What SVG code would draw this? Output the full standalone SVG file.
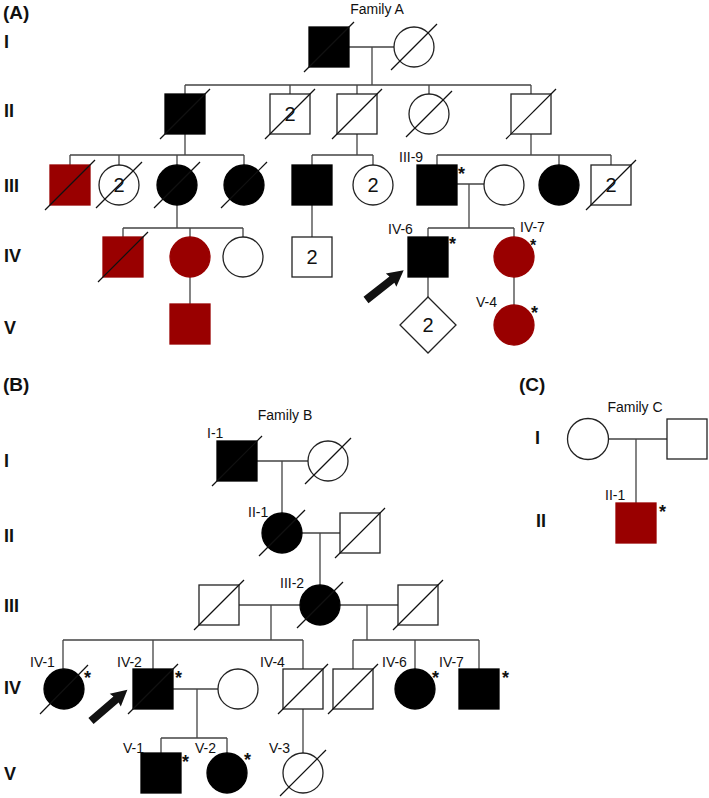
<svg xmlns="http://www.w3.org/2000/svg" width="709" height="798" viewBox="0 0 709 798">
<style>
.s{fill:#fff;stroke:#222;stroke-width:1.3}
.k{fill:#000;stroke:#000;stroke-width:1.3}
.r{fill:#990000;stroke:#990000;stroke-width:1.3}
.ln{stroke:#444;stroke-width:1.3;fill:none}
.d{stroke:#111;stroke-width:1.2}
.t{font-family:"Liberation Sans",Arial,sans-serif;fill:#111}
.gen{font-size:18px;font-weight:bold}
.pan{font-size:19px;font-weight:bold}
.lab{font-size:14px}
.fam{font-size:14px;text-anchor:middle}
.num{font-size:20px;text-anchor:middle}
.ast{font-size:18px;font-weight:bold}
.arw{fill:#111}
</style>
<defs>
<path id="arrow" d="M0,-4 L33,-4 L32,-8.5 L48,0 L32,8.5 L33,4 L0,4 Z"/>
</defs>
<rect width="709" height="798" fill="#fff"/>

<!-- panel and generation labels -->
<g id="labels" class="t">
<text class="pan" x="3" y="19">(A)</text>
<text class="pan" x="3" y="391">(B)</text>
<text class="pan" x="519" y="391">(C)</text>
<text class="fam" x="377" y="14">Family A</text>
<text class="fam" x="285" y="420">Family B</text>
<text class="fam" x="635" y="412">Family C</text>
<text class="gen" x="4" y="48">I</text>
<text class="gen" x="4" y="117">II</text>
<text class="gen" x="4" y="192">III</text>
<text class="gen" x="4" y="262">IV</text>
<text class="gen" x="4" y="334">V</text>
<text class="gen" x="4" y="467">I</text>
<text class="gen" x="4" y="542">II</text>
<text class="gen" x="4" y="612">III</text>
<text class="gen" x="4" y="694">IV</text>
<text class="gen" x="4" y="780">V</text>
<text class="gen" x="535" y="444">I</text>
<text class="gen" x="536" y="527">II</text>
</g>

<!-- connectors -->
<g id="connectors" class="ln">
<!-- Family A -->
<path d="M349,47 H394 M372,47 V85 M185,85 H531 M185,85 V94 M290,85 V94 M357,85 V94 M429,85 V94 M531,85 V94"/>
<path d="M185,134 V155 M70,155 H244 M70,155 V165 M119,155 V165 M177,155 V165 M244,155 V165"/>
<path d="M357,134 V155 M312,155 H373 M312,155 V165 M373,155 V165"/>
<path d="M531,134 V155 M437,155 H611 M437,155 V165 M559,155 V165 M611,155 V165"/>
<path d="M457,184 H484 M469,184 V228 M428,228 H514 M428,228 V237 M514,228 V237"/>
<path d="M177,205 V228 M123,228 H243 M123,228 V237 M190,228 V237 M243,228 V237"/>
<path d="M312,205 V237 M190,277 V304 M428,277 V297 M514,277 V305"/>
<!-- Family B -->
<path d="M257,461 H308 M282,461 V513 M302,533 H340 M320,533 V585"/>
<path d="M239,605 H300 M340,605 H398 M271,605 V640 M63,640 H303 M63,640 V669 M153,640 V669 M303,640 V669"/>
<path d="M367,605 V640 M353,640 H479 M353,640 V669 M415,640 V669 M479,640 V669"/>
<path d="M173,689 H218 M197,689 V738 M161,738 H227 M161,738 V753 M227,738 V753 M303,709 V753"/>
<!-- Family C -->
<path d="M608,439 H667 M636,439 V503"/>
</g>

<!-- Family A nodes -->
<g id="A-I-1"><rect class="k" x="309" y="27" width="40" height="40"/><line class="d" x1="304" y1="72" x2="354" y2="22"/></g>
<g id="A-I-2"><circle class="s" cx="414" cy="47" r="20"/><line class="d" x1="391" y1="70" x2="437" y2="24"/></g>

<g id="A-II-1"><rect class="k" x="165" y="94" width="40" height="40"/><line class="d" x1="160" y1="139" x2="210" y2="89"/></g>
<g id="A-II-2"><rect class="s" x="270" y="94" width="40" height="40"/><text class="t num" x="290" y="121">2</text><line class="d" x1="265" y1="139" x2="315" y2="89"/></g>
<g id="A-II-3"><rect class="s" x="337" y="94" width="40" height="40"/><line class="d" x1="332" y1="139" x2="382" y2="89"/></g>
<g id="A-II-4"><circle class="s" cx="429" cy="114" r="20"/><line class="d" x1="406" y1="137" x2="452" y2="91"/></g>
<g id="A-II-5"><rect class="s" x="511" y="94" width="40" height="40"/><line class="d" x1="506" y1="139" x2="556" y2="89"/></g>

<g id="A-III-1"><rect class="r" x="50" y="165" width="40" height="40"/><line class="d" x1="45" y1="210" x2="95" y2="160"/></g>
<g id="A-III-2"><circle class="s" cx="119" cy="185" r="20"/><text class="t num" x="119" y="192">2</text><line class="d" x1="96" y1="208" x2="142" y2="162"/></g>
<g id="A-III-3"><circle class="k" cx="177" cy="185" r="20"/><line class="d" x1="154" y1="208" x2="200" y2="162"/></g>
<g id="A-III-4"><circle class="k" cx="244" cy="185" r="20"/><line class="d" x1="221" y1="208" x2="267" y2="162"/></g>
<g id="A-III-5"><rect class="k" x="292" y="165" width="40" height="40"/></g>
<g id="A-III-6"><circle class="s" cx="373" cy="185" r="20"/><text class="t num" x="373" y="192">2</text></g>
<g id="A-III-9"><rect class="k" x="417" y="165" width="40" height="40"/><text class="t lab" x="399" y="162">III-9</text><text class="t ast" x="458" y="180">*</text></g>
<g id="A-III-10"><circle class="s" cx="504" cy="185" r="20"/></g>
<g id="A-III-11"><circle class="k" cx="559" cy="185" r="20"/></g>
<g id="A-III-12"><rect class="s" x="591" y="165" width="40" height="40"/><text class="t num" x="611" y="192">2</text><line class="d" x1="586" y1="210" x2="636" y2="160"/></g>

<g id="A-IV-1"><rect class="r" x="103" y="237" width="40" height="40"/><line class="d" x1="98" y1="282" x2="148" y2="232"/></g>
<g id="A-IV-2"><circle class="r" cx="190" cy="257" r="20"/></g>
<g id="A-IV-3"><circle class="s" cx="243" cy="257" r="20"/></g>
<g id="A-IV-4"><rect class="s" x="292" y="237" width="40" height="40"/><text class="t num" x="312" y="264">2</text></g>
<g id="A-IV-6"><rect class="k" x="408" y="237" width="40" height="40"/><text class="t lab" x="388" y="234">IV-6</text><text class="t ast" x="449" y="250">*</text><use href="#arrow" class="arw" transform="translate(366,300) rotate(-38.3)"/></g>
<g id="A-IV-7"><circle class="r" cx="514" cy="257" r="20"/><text class="t lab" x="520" y="232">IV-7</text><text class="t ast" x="530" y="251" style="font-size:16px">*</text></g>

<g id="A-V-1"><rect class="r" x="170" y="304" width="40" height="40"/></g>
<g id="A-V-2"><polygon class="s" points="428,297 456,325 428,353 400,325"/><text class="t num" x="428" y="332">2</text></g>
<g id="A-V-4"><circle class="r" cx="514" cy="325" r="20"/><text class="t lab" x="476" y="307">V-4</text><text class="t ast" x="531" y="319">*</text></g>

<!-- Family B nodes -->
<g id="B-I-1"><rect class="k" x="217" y="441" width="40" height="40"/><text class="t lab" x="207" y="438">I-1</text><line class="d" x1="212" y1="486" x2="262" y2="436"/></g>
<g id="B-I-2"><circle class="s" cx="328" cy="461" r="20"/><line class="d" x1="305" y1="484" x2="351" y2="438"/></g>
<g id="B-II-1"><circle class="k" cx="282" cy="533" r="20"/><text class="t lab" x="248" y="517">II-1</text><line class="d" x1="259" y1="556" x2="305" y2="510"/></g>
<g id="B-II-2"><rect class="s" x="340" y="513" width="40" height="40"/><line class="d" x1="335" y1="558" x2="385" y2="508"/></g>
<g id="B-III-1"><rect class="s" x="199" y="585" width="40" height="40"/><line class="d" x1="194" y1="630" x2="244" y2="580"/></g>
<g id="B-III-2"><circle class="k" cx="320" cy="605" r="20"/><text class="t lab" x="280" y="588">III-2</text><line class="d" x1="297" y1="628" x2="343" y2="582"/></g>
<g id="B-III-3"><rect class="s" x="398" y="585" width="40" height="40"/><line class="d" x1="393" y1="630" x2="443" y2="580"/></g>

<g id="B-IV-1"><circle class="k" cx="64" cy="689" r="20"/><text class="t lab" x="30" y="667">IV-1</text><text class="t ast" x="84" y="684">*</text><line class="d" x1="40" y1="714" x2="88" y2="665"/></g>
<g id="B-IV-2"><rect class="k" x="133" y="669" width="40" height="40"/><text class="t lab" x="117" y="667">IV-2</text><text class="t ast" x="175" y="684">*</text><line class="d" x1="128" y1="714" x2="178" y2="664"/><use href="#arrow" class="arw" transform="translate(91,721) rotate(-40.7)"/></g>
<g id="B-IV-3"><circle class="s" cx="238" cy="689" r="20"/></g>
<g id="B-IV-4"><rect class="s" x="283" y="669" width="40" height="40"/><text class="t lab" x="260" y="667">IV-4</text><line class="d" x1="278" y1="714" x2="328" y2="664"/></g>
<g id="B-IV-5"><rect class="s" x="333" y="669" width="40" height="40"/><line class="d" x1="328" y1="714" x2="378" y2="664"/></g>
<g id="B-IV-6"><circle class="k" cx="415" cy="689" r="20"/><text class="t lab" x="382" y="667">IV-6</text><text class="t ast" x="432" y="684">*</text></g>
<g id="B-IV-7"><rect class="k" x="459" y="669" width="40" height="40"/><text class="t lab" x="439" y="667">IV-7</text><text class="t ast" x="502" y="684">*</text></g>

<g id="B-V-1"><rect class="k" x="141" y="753" width="40" height="40"/><text class="t lab" x="123" y="753">V-1</text><text class="t ast" x="182" y="768">*</text></g>
<g id="B-V-2"><circle class="k" cx="227" cy="773" r="20"/><text class="t lab" x="195" y="753">V-2</text><text class="t ast" x="244" y="766">*</text></g>
<g id="B-V-3"><circle class="s" cx="303" cy="773" r="20"/><text class="t lab" x="269" y="753">V-3</text><line class="d" x1="280" y1="796" x2="326" y2="750"/></g>

<!-- Family C nodes -->
<g id="C-I-1"><circle class="s" cx="588" cy="439" r="20.5"/></g>
<g id="C-I-2"><rect class="s" x="667" y="419" width="40" height="40"/></g>
<g id="C-II-1"><rect class="r" x="616" y="503" width="40" height="40"/><text class="t lab" x="605" y="500">II-1</text><text class="t ast" x="659" y="518">*</text></g>
</svg>
